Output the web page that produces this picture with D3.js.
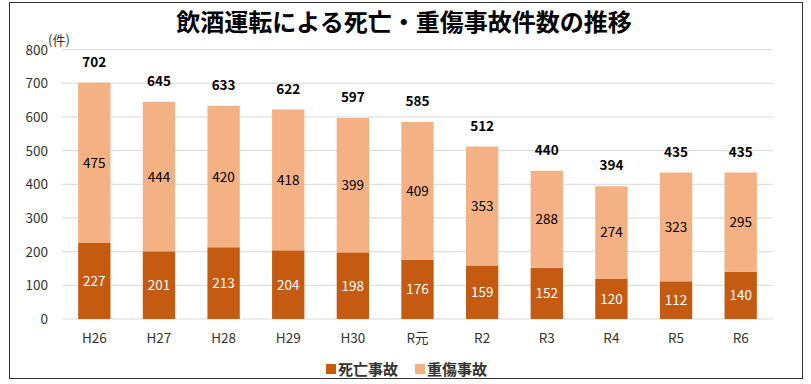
<!DOCTYPE html>
<html><head><meta charset="utf-8">
<script src="https://cdn.jsdelivr.net/npm/d3@7"></script>
<style>body{margin:0;background:#fff}</style>
</head><body>
<svg id="chart"></svg>
<script>
var years = ["H26","H27","H28","H29","H30","R元","R2","R3","R4","R5","R6"];
var deaths = [227,201,213,204,198,176,159,152,120,112,140];
var injuries = [475,444,420,418,399,409,353,288,274,323,295];
var totals = [702,645,633,622,597,585,512,440,394,435,435];
var yTicks = [0,100,200,300,400,500,600,700,800];

var width = 811, height = 384;
var font = "'Noto Sans CJK JP', 'Noto Sans', sans-serif";

var svg = d3.select("#chart").attr("width", width).attr("height", height);

svg.append("rect").attr("x", 9.5).attr("y", 2.5).attr("width", 793).attr("height", 376)
    .attr("fill", "#fff").attr("stroke", "#333").attr("stroke-width", 1);

svg.append("text").attr("x", 404).attr("y", 31).attr("text-anchor", "middle")
    .attr("font-family", font).attr("font-weight", "bold").attr("font-size", 24)
    .attr("fill", "#000").text("飲酒運転による死亡・重傷事故件数の推移");

var x = d3.scaleBand().domain(years).range([62, 773]).paddingInner(0.5).paddingOuter(0.25);
var y = d3.scaleLinear().domain([0, 800]).range([319, 49.6]);

svg.selectAll("line.grid").data(yTicks).enter().append("line")
    .attr("class", "grid")
    .attr("x1", 62).attr("x2", 773)
    .attr("y1", function(d) { return y(d); }).attr("y2", function(d) { return y(d); })
    .attr("stroke", "#d9d9d9").attr("stroke-width", 1);

svg.selectAll("text.ytick").data(yTicks).enter().append("text")
    .attr("class", "ytick")
    .attr("x", 48).attr("y", function(d) { return y(d) + 5; })
    .attr("text-anchor", "end").attr("font-family", font).attr("font-size", 13.5)
    .attr("fill", "#333").text(function(d) { return d; });

svg.append("text").attr("x", 48).attr("y", 45).attr("font-family", font)
    .attr("font-size", 13).attr("fill", "#333").text("(件)");

var rows = years.map(function(d, i) {
    return {year: d, death: deaths[i], injury: injuries[i], total: totals[i]};
});

var g = svg.selectAll("g.bar").data(rows).enter().append("g").attr("class", "bar");

g.append("rect")
    .attr("x", function(d) { return x(d.year); }).attr("width", x.bandwidth())
    .attr("y", function(d) { return y(d.death); })
    .attr("height", function(d) { return y(0) - y(d.death); })
    .attr("fill", "#C55A11");

g.append("rect")
    .attr("x", function(d) { return x(d.year); }).attr("width", x.bandwidth())
    .attr("y", function(d) { return y(d.death + d.injury); })
    .attr("height", function(d) { return y(d.death) - y(d.death + d.injury); })
    .attr("fill", "#F4B183");

g.append("text")
    .attr("x", function(d) { return x(d.year) + x.bandwidth() / 2; })
    .attr("y", function(d) { return (y(0) + y(d.death)) / 2 + 5; })
    .attr("text-anchor", "middle").attr("font-family", font).attr("font-size", 13.5)
    .attr("fill", "#fff").text(function(d) { return d.death; });

g.append("text")
    .attr("x", function(d) { return x(d.year) + x.bandwidth() / 2; })
    .attr("y", function(d) { return (y(d.death) + y(d.death + d.injury)) / 2 + 5; })
    .attr("text-anchor", "middle").attr("font-family", font).attr("font-size", 13.5)
    .attr("fill", "#000").text(function(d) { return d.injury; });

g.append("text")
    .attr("x", function(d) { return x(d.year) + x.bandwidth() / 2; })
    .attr("y", function(d) { return y(d.total) - 16; })
    .attr("text-anchor", "middle").attr("font-family", font).attr("font-size", 13.5)
    .attr("font-weight", "bold").attr("fill", "#000").text(function(d) { return d.total; });

g.append("text")
    .attr("x", function(d) { return x(d.year) + x.bandwidth() / 2; })
    .attr("y", 343)
    .attr("text-anchor", "middle").attr("font-family", font).attr("font-size", 13.5)
    .attr("fill", "#333").text(function(d) { return d.year; });

var legend = [{name: "死亡事故", color: "#C55A11", x: 326}, {name: "重傷事故", color: "#F4B183", x: 415}];
var lg = svg.selectAll("g.legend").data(legend).enter().append("g").attr("class", "legend");
lg.append("rect").attr("x", function(d) { return d.x; }).attr("y", 364)
    .attr("width", 10).attr("height", 10).attr("fill", function(d) { return d.color; });
lg.append("text").attr("x", function(d) { return d.x + 12; }).attr("y", 375)
    .attr("font-family", font).attr("font-size", 15).attr("font-weight", "bold").attr("fill", "#333")
    .text(function(d) { return d.name; });
</script>
</body></html>
